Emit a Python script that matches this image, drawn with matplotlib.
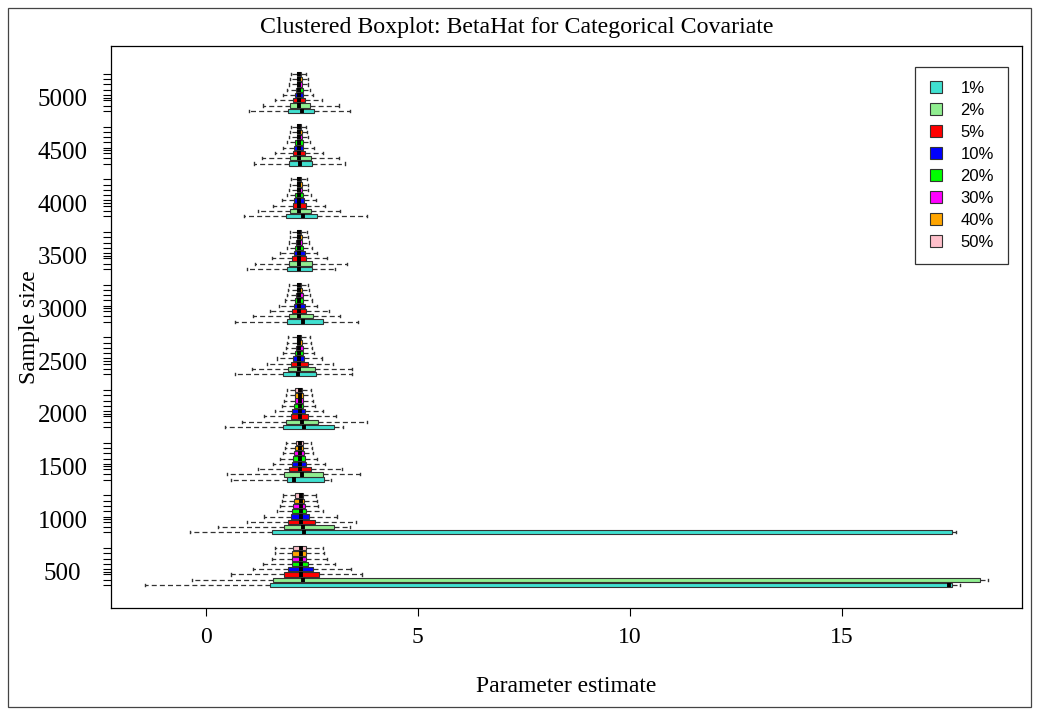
import numpy as np
import matplotlib.pyplot as plt
from matplotlib.patches import Patch, Rectangle

plt.rcParams['font.family'] = ['Liberation Serif', 'DejaVu Serif']

sizes = [500, 1000, 1500, 2000, 2500, 3000, 3500, 4000, 4500, 5000]
rates = ['1%', '2%', '5%', '10%', '20%', '30%', '40%', '50%']
colors = ['turquoise', 'lightgreen', 'red', 'blue', 'lime', 'magenta', 'orange', 'pink']

# rows: sample size, columns: missing rate (1% .. 50%)
whis_lo = [
    [-1.43, -0.34, 0.58, 1.10, 1.35, 1.55, 1.63, 1.64],
    [-0.38, 0.28, 0.96, 1.37, 1.67, 1.75, 1.79, 1.81],
    [0.58, 0.49, 1.23, 1.59, 1.75, 1.82, 1.86, 1.89],
    [0.46, 0.86, 1.37, 1.63, 1.79, 1.85, 1.88, 1.90],
    [0.68, 1.09, 1.43, 1.67, 1.82, 1.88, 1.91, 1.93],
    [0.68, 1.10, 1.51, 1.73, 1.86, 1.90, 1.94, 1.96],
    [0.96, 1.16, 1.55, 1.75, 1.90, 1.95, 1.98, 1.98],
    [0.89, 1.23, 1.59, 1.79, 1.90, 1.96, 1.98, 2.00],
    [1.14, 1.33, 1.63, 1.81, 1.90, 1.97, 1.98, 2.00],
    [1.01, 1.35, 1.64, 1.82, 1.90, 1.96, 1.98, 2.00],
]
q1 = [
    [1.51, 1.57, 1.85, 1.93, 2.02, 2.04, 2.04, 2.06],
    [1.56, 1.84, 1.94, 2.00, 2.03, 2.06, 2.08, 2.09],
    [1.92, 1.84, 1.96, 2.03, 2.06, 2.08, 2.11, 2.12],
    [1.82, 1.88, 2.01, 2.04, 2.08, 2.09, 2.11, 2.11],
    [1.81, 1.93, 2.01, 2.06, 2.09, 2.12, 2.14, 2.15],
    [1.90, 1.97, 2.04, 2.08, 2.11, 2.12, 2.15, 2.15],
    [1.90, 1.96, 2.03, 2.08, 2.10, 2.13, 2.15, 2.15],
    [1.88, 1.98, 2.06, 2.08, 2.11, 2.14, 2.15, 2.15],
    [1.96, 1.98, 2.06, 2.08, 2.11, 2.14, 2.15, 2.15],
    [1.94, 1.98, 2.06, 2.11, 2.12, 2.14, 2.15, 2.15],
]
med = [
    [17.52, 2.30, 2.24, 2.24, 2.24, 2.24, 2.24, 2.24],
    [2.31, 2.30, 2.24, 2.24, 2.24, 2.24, 2.24, 2.24],
    [2.08, 2.27, 2.21, 2.21, 2.21, 2.21, 2.21, 2.21],
    [2.31, 2.27, 2.21, 2.21, 2.21, 2.21, 2.21, 2.21],
    [2.16, 2.20, 2.19, 2.19, 2.19, 2.19, 2.19, 2.19],
    [2.28, 2.20, 2.20, 2.20, 2.20, 2.20, 2.20, 2.20],
    [2.19, 2.20, 2.20, 2.20, 2.20, 2.20, 2.20, 2.20],
    [2.28, 2.20, 2.20, 2.20, 2.20, 2.20, 2.20, 2.20],
    [2.22, 2.20, 2.20, 2.20, 2.20, 2.20, 2.20, 2.20],
    [2.27, 2.20, 2.20, 2.20, 2.20, 2.20, 2.20, 2.20],
]
q3 = [
    [17.60, 18.27, 2.67, 2.52, 2.40, 2.37, 2.36, 2.35],
    [17.59, 3.03, 2.57, 2.42, 2.37, 2.33, 2.31, 2.30],
    [2.79, 2.75, 2.47, 2.37, 2.33, 2.31, 2.30, 2.28],
    [3.03, 2.65, 2.41, 2.34, 2.30, 2.28, 2.28, 2.26],
    [2.59, 2.57, 2.40, 2.32, 2.30, 2.28, 2.27, 2.25],
    [2.75, 2.52, 2.37, 2.33, 2.30, 2.28, 2.26, 2.25],
    [2.51, 2.49, 2.37, 2.33, 2.30, 2.26, 2.26, 2.25],
    [2.63, 2.48, 2.35, 2.31, 2.30, 2.26, 2.26, 2.25],
    [2.49, 2.47, 2.34, 2.30, 2.29, 2.26, 2.26, 2.25],
    [2.56, 2.45, 2.33, 2.30, 2.28, 2.26, 2.26, 2.25],
]
whis_hi = [
    [17.78, 18.45, 3.67, 3.42, 3.04, 2.86, 2.79, 2.77],
    [17.70, 3.40, 3.55, 3.08, 2.75, 2.65, 2.61, 2.59],
    [2.94, 3.63, 3.20, 2.81, 2.61, 2.53, 2.49, 2.48],
    [3.24, 3.79, 3.07, 2.77, 2.57, 2.52, 2.49, 2.47],
    [3.44, 3.44, 2.99, 2.73, 2.55, 2.49, 2.47, 2.45],
    [3.59, 3.16, 2.90, 2.63, 2.49, 2.45, 2.42, 2.41],
    [3.04, 3.32, 2.85, 2.61, 2.49, 2.42, 2.40, 2.39],
    [3.79, 3.16, 2.81, 2.59, 2.47, 2.41, 2.40, 2.39],
    [3.28, 3.14, 2.77, 2.55, 2.45, 2.41, 2.39, 2.37],
    [3.40, 3.15, 2.73, 2.53, 2.45, 2.41, 2.40, 2.37],
]

fig = plt.figure(figsize=(10.39, 7.10), dpi=100)
ax = fig.add_axes([111 / 1039, 102 / 710, 911 / 1039, 562 / 710])

stats, positions, facecols = [], [], []
for g in range(len(sizes)):
    for k in range(len(rates)):
        stats.append(dict(whislo=whis_lo[g][k], q1=q1[g][k], med=med[g][k],
                          q3=q3[g][k], whishi=whis_hi[g][k], fliers=[]))
        positions.append(g * 10 + k)
        facecols.append(colors[k])

bp = ax.bxp(stats, positions=positions, orientation='horizontal', widths=0.82,
            patch_artist=True, showfliers=False, capwidths=0.4,
            boxprops=dict(edgecolor='#333333', linewidth=0.8),
            medianprops=dict(color='black', linewidth=2.8, solid_capstyle='butt'),
            whiskerprops=dict(color='#333333', linewidth=0.9, linestyle=(0, (4, 2.5))),
            capprops=dict(color='#333333', linewidth=1.0))
for patch, c in zip(bp['boxes'], facecols):
    patch.set_facecolor(c)

ax.set_xlim(-2.24, 19.25)
ax.set_ylim(-4.36, 102.3)

ax.set_xticks([0, 5, 10, 15])
ax.set_xticklabels(['0', '5', '10', '15'], fontsize=17)
ax.set_yticks([g * 10 + 2.5 for g in range(len(sizes))])
ax.set_yticklabels([str(s) for s in sizes], fontsize=18)
ax.set_yticks(positions, minor=True)
for lbl in ax.get_yticklabels():
    lbl.set_ha('center')
ax.tick_params(axis='x', which='both', direction='out', length=6, width=0.8, pad=8)
ax.tick_params(axis='y', which='both', direction='out', length=6, width=0.8, pad=29)
for sp in ax.spines.values():
    sp.set_linewidth(0.9)

ax.set_xlabel('Parameter estimate', fontsize=17, va='center')
ax.xaxis.set_label_coords(0.5, (608 - 687) / 562)
ax.set_ylabel('Sample size', fontsize=17, va='center', ha='center')
ax.yaxis.set_label_coords((30 - 111) / 911, 0.5)

fig.text(517 / 1039, 1 - 28 / 710, 'Clustered Boxplot: BetaHat for Categorical Covariate',
         fontsize=17.2, ha='center', va='center')

handles = [Patch(facecolor=c, edgecolor='#333333', linewidth=0.8, label=r)
           for c, r in zip(colors, rates)]
leg = ax.legend(handles=handles, loc='upper right', bbox_to_anchor=(1 - 14 / 911, 1 - 21 / 562),
                prop={'family': 'Liberation Sans', 'size': 12}, frameon=True, fancybox=False,
                edgecolor='#333333', framealpha=1, handlelength=0.75, handleheight=0.75,
                labelspacing=0.42, handletextpad=1.1, borderpad=0.85, borderaxespad=0)
leg.get_frame().set_linewidth(0.9)

fig.patches.append(Rectangle((8 / 1039, 3 / 710), 1023 / 1039, 699 / 710,
                             transform=fig.transFigure, fill=False,
                             edgecolor='#444444', linewidth=0.9))

fig.savefig('out.png', dpi=100)
